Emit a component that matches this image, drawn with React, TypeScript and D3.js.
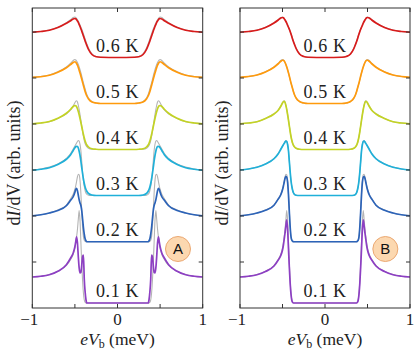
import * as d3 from 'd3';

// half-curve bias grid (meV); curves are mirrored to negative bias
const volts = [0, 0.2, 0.25, 0.3, 0.34, 0.36, 0.37, 0.38, 0.39, 0.4, 0.41, 0.42, 0.43, 0.44, 0.45, 0.46, 0.47, 0.48, 0.49, 0.5, 0.52, 0.55, 0.6, 0.7, 0.8, 0.9, 1.0];

const temps = ['0.1 K', '0.2 K', '0.3 K', '0.4 K', '0.5 K', '0.6 K'];
const offsets = [0, 2.45, 4.3, 6.14, 7.98, 9.82];
const colors = ['#8d3fc3', '#2c63b8', '#1fb0d9', '#c3d324', '#ff9a0c', '#d81b1b'];

// panel A, measured-like curves
const a01 = [0, 0, 0, 0, 0, 0, 0.13, 0.45, 0.95, 1.92, 1.85, 1.5, 1.22, 1.2, 1.4, 1.85, 2.4, 2.65, 2.45, 2.25, 2.0, 1.8, 1.53, 1.27, 1.13, 1.07, 1.04];
const a02 = [0, 0, 0, 0, 0, 0, 0.04, 0.12, 0.3, 0.57, 0.92, 1.25, 1.45, 1.55, 1.68, 1.86, 2.04, 2.14, 2.1, 1.98, 1.8, 1.66, 1.44, 1.25, 1.15, 1.08, 1.04];
const a03 = [0, 0, 0, 0.02, 0.08, 0.17, 0.24, 0.34, 0.48, 0.66, 0.88, 1.12, 1.38, 1.6, 1.77, 1.9, 1.96, 1.97, 1.95, 1.91, 1.8, 1.63, 1.45, 1.24, 1.11, 1.05, 1.01];
const a04 = [0, 0, 0.01, 0.03, 0.1, 0.18, 0.25, 0.34, 0.46, 0.6, 0.76, 0.92, 1.08, 1.24, 1.39, 1.52, 1.63, 1.71, 1.75, 1.76, 1.72, 1.61, 1.45, 1.25, 1.12, 1.06, 1.03];
const a05 = [0, 0, 0.02, 0.06, 0.18, 0.3, 0.38, 0.48, 0.6, 0.72, 0.85, 0.98, 1.1, 1.22, 1.33, 1.44, 1.53, 1.6, 1.65, 1.67, 1.64, 1.56, 1.43, 1.25, 1.13, 1.07, 1.05];
const a06 = [0, 0.01, 0.03, 0.12, 0.32, 0.48, 0.57, 0.66, 0.76, 0.86, 0.96, 1.06, 1.15, 1.24, 1.32, 1.4, 1.46, 1.51, 1.55, 1.56, 1.54, 1.47, 1.37, 1.2, 1.09, 1.04, 1.01];

// grey reference curves (both panels)
const g01 = [0, 0, 0, 0, 0, 0, 0, 0.03, 0.12, 0.4, 0.9, 1.6, 2.45, 3.3, 3.7, 3.35, 2.95, 2.65, 2.4, 2.2, 1.95, 1.74, 1.5, 1.27, 1.14, 1.07, 1.04];
const g02 = [0, 0, 0, 0, 0, 0, 0, 0.02, 0.06, 0.2, 0.6, 1.25, 1.95, 2.45, 2.68, 2.7, 2.6, 2.42, 2.24, 2.1, 1.9, 1.72, 1.47, 1.27, 1.15, 1.08, 1.04];
const g03 = [0, 0, 0, 0, 0.01, 0.05, 0.1, 0.2, 0.36, 0.6, 0.95, 1.38, 1.8, 2.05, 2.18, 2.2, 2.16, 2.1, 2.04, 1.98, 1.86, 1.68, 1.48, 1.26, 1.14, 1.06, 1.02];
const g04 = [0, 0, 0, 0.01, 0.05, 0.11, 0.16, 0.24, 0.36, 0.52, 0.72, 0.95, 1.18, 1.4, 1.6, 1.77, 1.9, 1.95, 1.93, 1.87, 1.74, 1.58, 1.43, 1.24, 1.11, 1.06, 1.03];
const g05 = [0, 0, 0.02, 0.08, 0.22, 0.36, 0.46, 0.58, 0.7, 0.82, 0.96, 1.1, 1.23, 1.35, 1.46, 1.56, 1.64, 1.7, 1.74, 1.76, 1.72, 1.61, 1.46, 1.27, 1.14, 1.08, 1.05];
const g06 = [0, 0.01, 0.04, 0.15, 0.38, 0.55, 0.64, 0.74, 0.85, 0.95, 1.05, 1.14, 1.22, 1.3, 1.38, 1.45, 1.51, 1.56, 1.6, 1.62, 1.6, 1.51, 1.39, 1.21, 1.1, 1.04, 1.01];

// panel B
const b01 = [0, 0, 0, 0, 0, 0, 0, 0.02, 0.1, 0.35, 0.8, 1.45, 2.2, 2.95, 3.33, 3.1, 2.8, 2.55, 2.3, 2.12, 1.9, 1.72, 1.48, 1.26, 1.13, 1.07, 1.04];
const b02 = [0, 0, 0, 0, 0, 0, 0, 0.02, 0.06, 0.2, 0.6, 1.22, 1.9, 2.38, 2.58, 2.62, 2.54, 2.38, 2.22, 2.08, 1.88, 1.71, 1.46, 1.26, 1.15, 1.08, 1.04];
const b03 = [0, 0, 0, 0, 0.01, 0.05, 0.1, 0.2, 0.36, 0.6, 0.95, 1.38, 1.8, 2.04, 2.16, 2.18, 2.14, 2.08, 2.03, 1.97, 1.85, 1.67, 1.47, 1.26, 1.13, 1.06, 1.02];
const b04 = [0, 0, 0, 0.01, 0.05, 0.11, 0.16, 0.24, 0.36, 0.52, 0.72, 0.95, 1.18, 1.4, 1.6, 1.76, 1.88, 1.93, 1.91, 1.86, 1.73, 1.57, 1.42, 1.24, 1.11, 1.06, 1.03];
const b05 = [0, 0, 0.02, 0.08, 0.22, 0.36, 0.46, 0.58, 0.7, 0.82, 0.96, 1.1, 1.23, 1.35, 1.46, 1.56, 1.64, 1.7, 1.73, 1.73, 1.69, 1.59, 1.45, 1.26, 1.14, 1.08, 1.05];
const b06 = [0, 0.01, 0.04, 0.14, 0.36, 0.53, 0.62, 0.72, 0.83, 0.94, 1.04, 1.13, 1.21, 1.29, 1.37, 1.44, 1.5, 1.55, 1.59, 1.6, 1.58, 1.5, 1.38, 1.2, 1.09, 1.04, 1.01];

const panelA = [a01, a02, a03, a04, a05, a06];
const panelB = [b01, b02, b03, b04, b05, b06];
const greys = [g01, g02, g03, g04, g05, g06];

const xTicks = [-1, -0.5, 0, 0.5, 1];
const xTickLabels = ['\u22121', '', '0', '', '1'];
const yTicks = [1.64, 3.48, 5.32, 7.16, 9.0, 10.84];

const serif = '"Liberation Serif", "Times New Roman", serif';

function mirror(vals: number[]): [number, number][] {
  const pts: [number, number][] = [];
  for (let i = volts.length - 1; i > 0; i--) pts.push([-volts[i], vals[i]]);
  for (let i = 0; i < volts.length; i++) pts.push([volts[i], vals[i]]);
  return pts;
}

function Panel({ x0, x1, letter, curves, id }: { x0: number; x1: number; letter: string; curves: number[][]; id: string }) {
  const top = 8, bottom = 308;
  const x = d3.scaleLinear().domain([-1, 1]).range([x0, x1]);
  const y = d3.scaleLinear().domain([-0.2, 11.8]).range([bottom, top]);
  const cx = x(0);
  const mk = (off: number) =>
    d3.line<[number, number]>()
      .x(d => x(d[0]))
      .y(d => y(d[1] + off))
      .curve(d3.curveMonotoneX);

  return (
    <g>
      <defs>
        <clipPath id={id}>
          <rect x={x0} y={top} width={x1 - x0} height={bottom - top} />
        </clipPath>
      </defs>
      <g clipPath={`url(#${id})`}>
        {greys.map((g, i) => (
          <path key={'g' + i} d={mk(offsets[i])(mirror(g)) || ''} fill="none" stroke="#b4b4b4" strokeWidth={1.1} />
        ))}
        {curves.map((c, i) => (
          <path key={'c' + i} d={mk(offsets[i])(mirror(c)) || ''} fill="none" stroke={colors[i]} strokeWidth={1.7} />
        ))}
      </g>
      {temps.map((t, i) => (
        <text key={t} x={cx} y={y(offsets[i]) - 6} textAnchor="middle" fontFamily={serif} fontSize={18} letterSpacing={0.6} fill="#222">
          {t}
        </text>
      ))}
      <rect x={x0} y={top} width={x1 - x0} height={bottom - top} fill="none" stroke="#333" strokeWidth={1} />
      {xTicks.map(v => (
        <g key={v}>
          <line x1={x(v)} x2={x(v)} y1={bottom} y2={bottom - 4} stroke="#333" />
          <line x1={x(v)} x2={x(v)} y1={top} y2={top + 4} stroke="#333" />
        </g>
      ))}
      {yTicks.map(v => (
        <g key={v}>
          <line x1={x0} x2={x0 + 4} y1={y(v)} y2={y(v)} stroke="#333" />
          <line x1={x1} x2={x1 - 4} y1={y(v)} y2={y(v)} stroke="#333" />
        </g>
      ))}
      {xTicks.map((v, i) =>
        xTickLabels[i] ? (
          <text key={'l' + v} x={x(v) + (v < 0 ? -3 : 0)} y={325} textAnchor="middle" fontFamily={serif} fontSize={17} fill="#222">
            {xTickLabels[i]}
          </text>
        ) : null
      )}
      <text x={cx} y={345} textAnchor="middle" fontFamily={serif} fontSize={17.5} fill="#222">
        <tspan fontStyle="italic">eV</tspan>
        <tspan fontSize={12} dy={3}>b</tspan>
        <tspan dy={-3}> (meV)</tspan>
      </text>
      <text transform={`translate(${x0 - 12},163) rotate(-90)`} textAnchor="middle" fontFamily={serif} fontSize={18} fill="#222">
        d<tspan fontStyle="italic">I</tspan>/dV (arb.  units)
      </text>
      <circle cx={x(0.71)} cy={249} r={12.5} fill="#fcd8b0" stroke="#eba872" strokeWidth={1} />
      <text x={x(0.71)} y={249} dy="0.36em" textAnchor="middle" fontFamily='"Liberation Sans", Arial, sans-serif' fontSize={15} fill="#111">
        {letter}
      </text>
    </g>
  );
}

export default function App() {
  return (
    <svg width={415} height={363} style={{ position: 'absolute', left: 0, top: 0, background: '#fff' }}>
      <Panel x0={32.3} x1={202.7} letter="A" curves={panelA} id="clipA" />
      <Panel x0={240} x1={410} letter="B" curves={panelB} id="clipB" />
    </svg>
  );
}
